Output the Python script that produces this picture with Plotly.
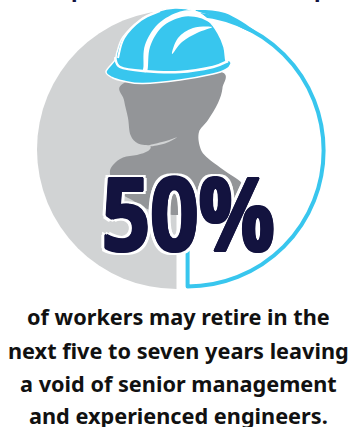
import plotly.graph_objects as go

W, H = 356, 427

# Statistic shown by the two half discs
retiring_share = [50, 50]
headline = "50%"
body_lines = [
    "of workers may retire in the",
    "next five to seven years leaving",
    "a void of senior management",
    "and experienced engineers.",
]
body_centres = [316, 350, 383, 415.5]

GREY = "#d1d3d4"
HEAD = "#939598"
BLUE = "#38c6ee"
NAVY = "#13133f"
INK = "#111111"
CLEAR = "rgba(0,0,0,0)"


def px(x):
    return x / W


def py(y):
    return 1 - y / H


def domain(cx, cy, r):
    return dict(x=[px(cx - r), px(cx + r)], y=[py(cy + r), py(cy - r)])


def smooth(points, close=True, k=0.17):
    # Catmull-Rom style curve through the outline points, in paper coordinates
    n = len(points)
    d = f"M{px(points[0][0]):.5f},{py(points[0][1]):.5f}"
    last = n if close else n - 1
    for i in range(last):
        p0 = points[(i - 1) % n] if close or i > 0 else points[i]
        p1 = points[i]
        p2 = points[(i + 1) % n]
        p3 = points[(i + 2) % n] if close or i + 2 < n else p2
        c1 = (p1[0] + (p2[0] - p0[0]) * k, p1[1] + (p2[1] - p0[1]) * k)
        c2 = (p2[0] - (p3[0] - p1[0]) * k, p2[1] - (p3[1] - p1[1]) * k)
        d += (f" C{px(c1[0]):.5f},{py(c1[1]):.5f} {px(c2[0]):.5f},{py(c2[1]):.5f}"
              f" {px(p2[0]):.5f},{py(p2[1]):.5f}")
    return d + (" Z" if close else "")


def blob(points, fill, line=None, width=0, close=True):
    return dict(type="path", xref="paper", yref="paper", layer="above",
                path=smooth(points, close),
                fillcolor=fill if close else CLEAR,
                line=dict(color=line or CLEAR, width=width))


# Worker silhouette: head, neck and shoulders
head = [(122.5, 84), (124, 100), (128, 118), (130.5, 135), (138, 143.5), (150, 146),
        (148, 151), (137, 155), (123, 157.5), (113, 165), (110, 174), (116, 190),
        (132, 200), (150, 210), (178, 215), (210, 208), (235, 198), (243, 185),
        (225, 171), (206.5, 157), (200, 147), (199, 132), (208, 120), (218, 103),
        (222.5, 88), (221.5, 72), (170, 70)]
chin_crease = [(150, 146.5), (165, 143.5), (177, 137.3), (166, 141), (150, 145)]

# Hard hat outline and its white ribs
hat = [(106, 71.5), (115, 60), (117, 52), (123, 37), (140, 20), (157, 11.5), (175, 8),
       (193, 10.5), (208, 20), (218, 33), (224, 47), (226, 61), (229, 60), (231, 64),
       (226, 69.5), (213, 74), (180, 80), (143, 83.5), (123, 81), (112, 77.5)]
rim_line = [(115, 57), (120, 67), (143, 71), (180, 72), (213, 67), (228, 61)]
rib_thin = [(118, 58), (124, 38), (141, 20), (160, 11)]
rib_wide = [(143, 71), (143.5, 66), (145, 45), (158, 24), (180, 11.5), (198, 12), (213, 24),
            (200, 18), (182, 17), (162, 27), (150, 47), (147.5, 70)]
crescent = [(172, 54), (178, 38), (193, 28), (212, 27), (197, 33), (182, 42)]
# Tapered start of the blue ring where it leaves the hat
ring_start = [(196, 10), (225, 13), (254, 30), (250, 32), (226, 20), (206, 14)]

fig = go.Figure()
fig.add_trace(go.Pie(
    values=retiring_share, sort=False, direction="clockwise", rotation=0,
    domain=domain(176.5, 149.5, 139.5),
    marker=dict(colors=[CLEAR, GREY], line=dict(width=0)),
    textinfo="none", hoverinfo="skip", showlegend=False,
))
fig.add_trace(go.Pie(
    values=retiring_share, sort=False, direction="clockwise", rotation=0,
    domain=domain(187.6, 150.5, 136),
    marker=dict(colors=["#ffffff", CLEAR], line=dict(color=[BLUE, CLEAR], width=[4, 0])),
    textinfo="none", hoverinfo="skip", showlegend=False,
))

shapes = [
    blob(head, HEAD),
    blob(chin_crease, GREY),
    blob(ring_start, BLUE),
    blob(hat, BLUE, "#ffffff", 1.5),
    blob(rim_line, CLEAR, "#ffffff", 2.5, close=False),
    blob(rib_thin, CLEAR, "#ffffff", 2, close=False),
    blob(rib_wide, "#ffffff"),
    blob(crescent, "#ffffff"),
]

# Headline: dark offsets thicken the strokes, white offsets give the keyline;
# it is narrowed horizontally once the page has drawn it
heavy = [f"{x}px {y}px 0 {NAVY}" for x, y in
         [(-1.6, 0), (1.6, 0), (-1.1, -0.6), (1.1, -0.6), (-1.1, 0.6), (1.1, 0.6)]]
keyline = [f"{x}px {y}px 0 #ffffff" for x, y in
           [(-5, 0), (5, 0), (0, -3.2), (0, 3.2), (-4, -2.4), (4, -2.4), (-4, 2.4), (4, 2.4)]]
annotations = [dict(
    text=f"<b>{headline}</b>", x=px(188.5), y=py(211), xref="paper", yref="paper",
    xanchor="center", yanchor="middle", showarrow=False,
    font=dict(family="Open Sans", size=102, weight=800, color=NAVY,
              shadow=", ".join(heavy + keyline)),
)]
for line, cy in zip(body_lines, body_centres):
    annotations.append(dict(
        text=f"<b>{line}</b>", x=px(178), y=py(cy), xref="paper", yref="paper",
        xanchor="center", yanchor="middle", showarrow=False,
        font=dict(family="Noto Sans", size=21.7, color=INK),
    ))
# Descenders of the heading line running off the top edge
for x in (78, 321):
    annotations.append(dict(
        text="<b>p</b>", x=px(x), y=py(3.5), xref="paper", yref="paper",
        xanchor="center", yanchor="bottom", showarrow=False, borderpad=0,
        font=dict(family="Noto Sans", size=22, color=NAVY),
    ))

fig.update_layout(
    width=W, height=H, margin=dict(l=0, r=0, t=0, b=0),
    paper_bgcolor="white", plot_bgcolor="white", showlegend=False,
    shapes=shapes, annotations=annotations,
)

narrow_headline = """
var gd = document.querySelector('.plotly-graph-div');
gd.querySelectorAll('.annotation-text').forEach(function (t) {
  if (t.textContent.indexOf('%') < 0) return;
  var box = t.getBBox();
  var mid = box.x + box.width / 2;
  var tf = t.getAttribute('transform') || '';
  t.setAttribute('transform', tf + ' translate(' + mid + ',0) scale(0.83,1) translate(' + (-mid) + ',0)');
});
"""
fig.write_html("out.html", config=dict(displayModeBar=False), post_script=narrow_headline)
